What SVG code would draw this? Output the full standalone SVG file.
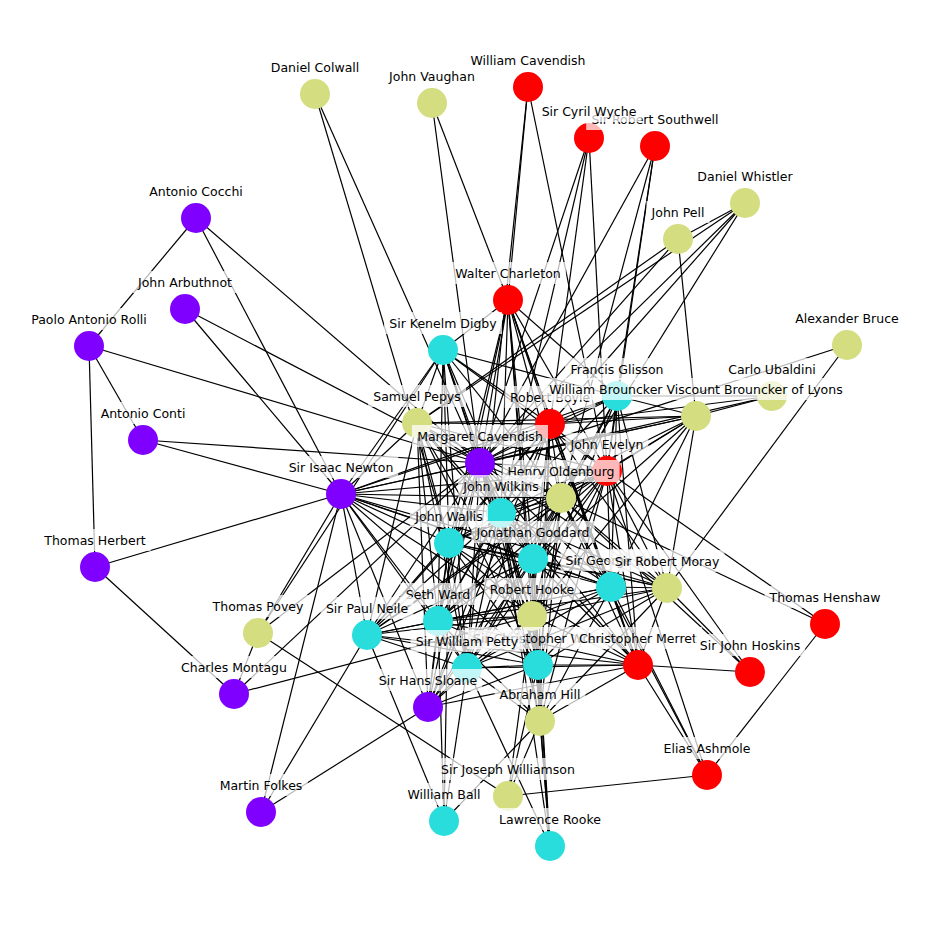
<svg xmlns="http://www.w3.org/2000/svg" width="936" height="936" viewBox="0 0 936 936">
<style>
#edges line{stroke:#000;stroke-width:1.2;stroke-linecap:butt}
.y{fill:#d4dd80}.r{fill:#ff0000}.p{fill:#8000ff}.c{fill:#2adddd}
.lb rect{fill:#fff;fill-opacity:0.72}
.lb text{font-family:"DejaVu Sans","Liberation Sans",sans-serif;font-size:12.5px;fill:#000;text-anchor:middle}
</style>
<rect width="936" height="936" fill="#fff"/>
<g id="edges">
<line x1="315" y1="94" x2="480" y2="463"/><line x1="315" y1="94" x2="449" y2="543"/>
<line x1="432" y1="103" x2="508" y2="300"/><line x1="432" y1="103" x2="480" y2="463"/>
<line x1="528" y1="87" x2="508" y2="300"/><line x1="528" y1="87" x2="467" y2="668"/><line x1="528" y1="87" x2="607" y2="471"/>
<line x1="589" y1="138" x2="480" y2="463"/><line x1="589" y1="138" x2="501" y2="513"/><line x1="589" y1="138" x2="550" y2="424"/><line x1="589" y1="138" x2="607" y2="471"/>
<line x1="655" y1="146" x2="480" y2="463"/><line x1="655" y1="146" x2="561" y2="498"/><line x1="655" y1="146" x2="607" y2="471"/><line x1="655" y1="146" x2="617" y2="396"/>
<line x1="745" y1="203" x2="678" y2="239"/><line x1="745" y1="203" x2="417" y2="423"/><line x1="745" y1="203" x2="480" y2="463"/><line x1="745" y1="203" x2="561" y2="498"/><line x1="745" y1="203" x2="550" y2="424"/>
<line x1="678" y1="239" x2="417" y2="423"/><line x1="678" y1="239" x2="480" y2="463"/><line x1="678" y1="239" x2="696" y2="416"/>
<line x1="847" y1="345" x2="480" y2="463"/><line x1="847" y1="345" x2="667" y2="588"/>
<line x1="772" y1="396" x2="696" y2="416"/><line x1="772" y1="396" x2="550" y2="424"/><line x1="772" y1="396" x2="480" y2="463"/><line x1="772" y1="396" x2="617" y2="396"/>
<line x1="196" y1="218" x2="89" y2="346"/><line x1="196" y1="218" x2="341" y2="494"/><line x1="196" y1="218" x2="480" y2="463"/>
<line x1="185" y1="309" x2="480" y2="463"/><line x1="185" y1="309" x2="341" y2="494"/>
<line x1="89" y1="346" x2="143" y2="440"/><line x1="89" y1="346" x2="95" y2="567"/><line x1="89" y1="346" x2="480" y2="463"/>
<line x1="143" y1="440" x2="341" y2="494"/><line x1="143" y1="440" x2="480" y2="463"/>
<line x1="95" y1="567" x2="341" y2="494"/><line x1="95" y1="567" x2="234" y2="694"/>
<line x1="234" y1="694" x2="258" y2="633"/><line x1="234" y1="694" x2="480" y2="463"/><line x1="234" y1="694" x2="532" y2="616"/>
<line x1="258" y1="633" x2="341" y2="494"/><line x1="258" y1="633" x2="443" y2="350"/><line x1="258" y1="633" x2="480" y2="463"/><line x1="258" y1="633" x2="508" y2="796"/>
<line x1="261" y1="812" x2="341" y2="494"/><line x1="261" y1="812" x2="367" y2="635"/><line x1="261" y1="812" x2="428" y2="707"/>
<line x1="428" y1="707" x2="341" y2="494"/><line x1="428" y1="707" x2="638" y2="665"/>
<line x1="707" y1="775" x2="638" y2="665"/><line x1="707" y1="775" x2="561" y2="498"/><line x1="707" y1="775" x2="611" y2="587"/><line x1="707" y1="775" x2="607" y2="471"/><line x1="707" y1="775" x2="825" y2="624"/><line x1="707" y1="775" x2="508" y2="796"/>
<line x1="750" y1="672" x2="638" y2="665"/><line x1="750" y1="672" x2="607" y2="471"/><line x1="750" y1="672" x2="561" y2="498"/>
<line x1="825" y1="624" x2="607" y2="471"/><line x1="825" y1="624" x2="561" y2="498"/>
<line x1="444" y1="821" x2="367" y2="635"/><line x1="444" y1="821" x2="438" y2="621"/><line x1="444" y1="821" x2="467" y2="668"/><line x1="444" y1="821" x2="540" y2="721"/><line x1="444" y1="821" x2="449" y2="543"/>
<line x1="550" y1="846" x2="540" y2="721"/><line x1="550" y1="846" x2="538" y2="665"/><line x1="550" y1="846" x2="532" y2="616"/><line x1="550" y1="846" x2="533" y2="559"/><line x1="550" y1="846" x2="467" y2="668"/><line x1="550" y1="846" x2="501" y2="513"/>
<line x1="508" y1="796" x2="540" y2="721"/><line x1="508" y1="796" x2="538" y2="665"/><line x1="508" y1="796" x2="532" y2="616"/>
<line x1="341" y1="494" x2="480" y2="463"/><line x1="341" y1="494" x2="417" y2="423"/><line x1="341" y1="494" x2="443" y2="350"/><line x1="341" y1="494" x2="501" y2="513"/><line x1="341" y1="494" x2="449" y2="543"/><line x1="341" y1="494" x2="561" y2="498"/><line x1="341" y1="494" x2="550" y2="424"/><line x1="341" y1="494" x2="533" y2="559"/><line x1="341" y1="494" x2="532" y2="616"/><line x1="341" y1="494" x2="438" y2="621"/><line x1="341" y1="494" x2="467" y2="668"/><line x1="341" y1="494" x2="538" y2="665"/><line x1="341" y1="494" x2="367" y2="635"/><line x1="341" y1="494" x2="611" y2="587"/><line x1="341" y1="494" x2="607" y2="471"/><line x1="341" y1="494" x2="617" y2="396"/><line x1="341" y1="494" x2="696" y2="416"/><line x1="341" y1="494" x2="667" y2="588"/>
<line x1="443" y1="350" x2="508" y2="300"/><line x1="443" y1="350" x2="480" y2="463"/><line x1="443" y1="350" x2="417" y2="423"/><line x1="443" y1="350" x2="550" y2="424"/><line x1="443" y1="350" x2="607" y2="471"/><line x1="443" y1="350" x2="561" y2="498"/><line x1="443" y1="350" x2="501" y2="513"/><line x1="443" y1="350" x2="449" y2="543"/><line x1="443" y1="350" x2="533" y2="559"/><line x1="443" y1="350" x2="438" y2="621"/><line x1="443" y1="350" x2="617" y2="396"/><line x1="443" y1="350" x2="467" y2="668"/><line x1="443" y1="350" x2="532" y2="616"/>
<line x1="508" y1="300" x2="480" y2="463"/><line x1="508" y1="300" x2="550" y2="424"/><line x1="508" y1="300" x2="561" y2="498"/><line x1="508" y1="300" x2="607" y2="471"/><line x1="508" y1="300" x2="501" y2="513"/><line x1="508" y1="300" x2="533" y2="559"/><line x1="508" y1="300" x2="611" y2="587"/><line x1="508" y1="300" x2="532" y2="616"/><line x1="508" y1="300" x2="538" y2="665"/><line x1="508" y1="300" x2="449" y2="543"/><line x1="508" y1="300" x2="438" y2="621"/><line x1="508" y1="300" x2="638" y2="665"/><line x1="508" y1="300" x2="617" y2="396"/>
<line x1="417" y1="423" x2="480" y2="463"/><line x1="417" y1="423" x2="550" y2="424"/><line x1="417" y1="423" x2="607" y2="471"/><line x1="417" y1="423" x2="561" y2="498"/><line x1="417" y1="423" x2="501" y2="513"/><line x1="417" y1="423" x2="449" y2="543"/><line x1="417" y1="423" x2="533" y2="559"/><line x1="417" y1="423" x2="438" y2="621"/><line x1="417" y1="423" x2="532" y2="616"/><line x1="417" y1="423" x2="367" y2="635"/><line x1="417" y1="423" x2="467" y2="668"/><line x1="417" y1="423" x2="428" y2="707"/><line x1="417" y1="423" x2="538" y2="665"/><line x1="417" y1="423" x2="696" y2="416"/>
<line x1="617" y1="396" x2="550" y2="424"/><line x1="617" y1="396" x2="480" y2="463"/><line x1="617" y1="396" x2="607" y2="471"/><line x1="617" y1="396" x2="561" y2="498"/><line x1="617" y1="396" x2="501" y2="513"/><line x1="617" y1="396" x2="533" y2="559"/><line x1="617" y1="396" x2="611" y2="587"/><line x1="617" y1="396" x2="696" y2="416"/><line x1="617" y1="396" x2="667" y2="588"/><line x1="617" y1="396" x2="532" y2="616"/><line x1="617" y1="396" x2="638" y2="665"/>
<line x1="696" y1="416" x2="550" y2="424"/><line x1="696" y1="416" x2="480" y2="463"/><line x1="696" y1="416" x2="607" y2="471"/><line x1="696" y1="416" x2="561" y2="498"/><line x1="696" y1="416" x2="501" y2="513"/><line x1="696" y1="416" x2="533" y2="559"/><line x1="696" y1="416" x2="611" y2="587"/><line x1="696" y1="416" x2="667" y2="588"/><line x1="696" y1="416" x2="532" y2="616"/>
<line x1="550" y1="424" x2="480" y2="463"/><line x1="550" y1="424" x2="607" y2="471"/><line x1="550" y1="424" x2="561" y2="498"/><line x1="550" y1="424" x2="501" y2="513"/><line x1="550" y1="424" x2="449" y2="543"/><line x1="550" y1="424" x2="533" y2="559"/><line x1="550" y1="424" x2="611" y2="587"/><line x1="550" y1="424" x2="667" y2="588"/><line x1="550" y1="424" x2="532" y2="616"/><line x1="550" y1="424" x2="438" y2="621"/><line x1="550" y1="424" x2="367" y2="635"/><line x1="550" y1="424" x2="467" y2="668"/><line x1="550" y1="424" x2="538" y2="665"/><line x1="550" y1="424" x2="638" y2="665"/><line x1="550" y1="424" x2="540" y2="721"/><line x1="550" y1="424" x2="428" y2="707"/>
<line x1="607" y1="471" x2="480" y2="463"/><line x1="607" y1="471" x2="561" y2="498"/><line x1="607" y1="471" x2="501" y2="513"/><line x1="607" y1="471" x2="449" y2="543"/><line x1="607" y1="471" x2="533" y2="559"/><line x1="607" y1="471" x2="611" y2="587"/><line x1="607" y1="471" x2="667" y2="588"/><line x1="607" y1="471" x2="532" y2="616"/><line x1="607" y1="471" x2="438" y2="621"/><line x1="607" y1="471" x2="467" y2="668"/><line x1="607" y1="471" x2="538" y2="665"/><line x1="607" y1="471" x2="638" y2="665"/><line x1="607" y1="471" x2="540" y2="721"/><line x1="607" y1="471" x2="367" y2="635"/>
<line x1="480" y1="463" x2="561" y2="498"/><line x1="480" y1="463" x2="501" y2="513"/><line x1="480" y1="463" x2="449" y2="543"/><line x1="480" y1="463" x2="533" y2="559"/><line x1="480" y1="463" x2="611" y2="587"/><line x1="480" y1="463" x2="667" y2="588"/><line x1="480" y1="463" x2="532" y2="616"/><line x1="480" y1="463" x2="438" y2="621"/><line x1="480" y1="463" x2="367" y2="635"/><line x1="480" y1="463" x2="467" y2="668"/><line x1="480" y1="463" x2="538" y2="665"/><line x1="480" y1="463" x2="428" y2="707"/><line x1="480" y1="463" x2="638" y2="665"/><line x1="480" y1="463" x2="540" y2="721"/>
<line x1="561" y1="498" x2="501" y2="513"/><line x1="561" y1="498" x2="449" y2="543"/><line x1="561" y1="498" x2="533" y2="559"/><line x1="561" y1="498" x2="611" y2="587"/><line x1="561" y1="498" x2="667" y2="588"/><line x1="561" y1="498" x2="532" y2="616"/><line x1="561" y1="498" x2="438" y2="621"/><line x1="561" y1="498" x2="367" y2="635"/><line x1="561" y1="498" x2="467" y2="668"/><line x1="561" y1="498" x2="538" y2="665"/><line x1="561" y1="498" x2="638" y2="665"/><line x1="561" y1="498" x2="540" y2="721"/><line x1="561" y1="498" x2="428" y2="707"/>
<line x1="501" y1="513" x2="449" y2="543"/><line x1="501" y1="513" x2="533" y2="559"/><line x1="501" y1="513" x2="611" y2="587"/><line x1="501" y1="513" x2="667" y2="588"/><line x1="501" y1="513" x2="532" y2="616"/><line x1="501" y1="513" x2="438" y2="621"/><line x1="501" y1="513" x2="367" y2="635"/><line x1="501" y1="513" x2="467" y2="668"/><line x1="501" y1="513" x2="538" y2="665"/><line x1="501" y1="513" x2="638" y2="665"/><line x1="501" y1="513" x2="540" y2="721"/><line x1="501" y1="513" x2="428" y2="707"/>
<line x1="449" y1="543" x2="533" y2="559"/><line x1="449" y1="543" x2="611" y2="587"/><line x1="449" y1="543" x2="667" y2="588"/><line x1="449" y1="543" x2="532" y2="616"/><line x1="449" y1="543" x2="438" y2="621"/><line x1="449" y1="543" x2="367" y2="635"/><line x1="449" y1="543" x2="467" y2="668"/><line x1="449" y1="543" x2="538" y2="665"/><line x1="449" y1="543" x2="638" y2="665"/><line x1="449" y1="543" x2="428" y2="707"/>
<line x1="533" y1="559" x2="611" y2="587"/><line x1="533" y1="559" x2="667" y2="588"/><line x1="533" y1="559" x2="532" y2="616"/><line x1="533" y1="559" x2="438" y2="621"/><line x1="533" y1="559" x2="367" y2="635"/><line x1="533" y1="559" x2="467" y2="668"/><line x1="533" y1="559" x2="538" y2="665"/><line x1="533" y1="559" x2="638" y2="665"/><line x1="533" y1="559" x2="540" y2="721"/><line x1="533" y1="559" x2="428" y2="707"/>
<line x1="611" y1="587" x2="667" y2="588"/><line x1="611" y1="587" x2="532" y2="616"/><line x1="611" y1="587" x2="438" y2="621"/><line x1="611" y1="587" x2="367" y2="635"/><line x1="611" y1="587" x2="467" y2="668"/><line x1="611" y1="587" x2="538" y2="665"/><line x1="611" y1="587" x2="638" y2="665"/><line x1="611" y1="587" x2="540" y2="721"/>
<line x1="667" y1="588" x2="532" y2="616"/><line x1="667" y1="588" x2="438" y2="621"/><line x1="667" y1="588" x2="467" y2="668"/><line x1="667" y1="588" x2="538" y2="665"/><line x1="667" y1="588" x2="638" y2="665"/><line x1="667" y1="588" x2="540" y2="721"/><line x1="667" y1="588" x2="750" y2="672"/>
<line x1="532" y1="616" x2="438" y2="621"/><line x1="532" y1="616" x2="367" y2="635"/><line x1="532" y1="616" x2="467" y2="668"/><line x1="532" y1="616" x2="538" y2="665"/><line x1="532" y1="616" x2="638" y2="665"/><line x1="532" y1="616" x2="540" y2="721"/><line x1="532" y1="616" x2="428" y2="707"/>
<line x1="438" y1="621" x2="367" y2="635"/><line x1="438" y1="621" x2="467" y2="668"/><line x1="438" y1="621" x2="538" y2="665"/><line x1="438" y1="621" x2="638" y2="665"/><line x1="438" y1="621" x2="428" y2="707"/><line x1="438" y1="621" x2="540" y2="721"/>
<line x1="367" y1="635" x2="467" y2="668"/><line x1="367" y1="635" x2="538" y2="665"/><line x1="367" y1="635" x2="638" y2="665"/>
<line x1="467" y1="668" x2="538" y2="665"/><line x1="467" y1="668" x2="638" y2="665"/><line x1="467" y1="668" x2="540" y2="721"/><line x1="467" y1="668" x2="428" y2="707"/>
<line x1="538" y1="665" x2="638" y2="665"/><line x1="538" y1="665" x2="540" y2="721"/><line x1="538" y1="665" x2="428" y2="707"/>
<line x1="638" y1="665" x2="540" y2="721"/>
</g>
<g id="nodes">
<g id="node-daniel-colwall"><circle class="y" cx="315" cy="94" r="15"/></g>
<g id="node-john-vaughan"><circle class="y" cx="432" cy="103" r="15"/></g>
<g id="node-william-cavendish"><circle class="r" cx="528" cy="87" r="15"/></g>
<g id="node-sir-cyril-wyche"><circle class="r" cx="589" cy="138" r="15"/></g>
<g id="node-sir-robert-southwell"><circle class="r" cx="655" cy="146" r="15"/></g>
<g id="node-daniel-whistler"><circle class="y" cx="745" cy="203" r="15"/></g>
<g id="node-john-pell"><circle class="y" cx="678" cy="239" r="15"/></g>
<g id="node-antonio-cocchi"><circle class="p" cx="196" cy="218" r="15"/></g>
<g id="node-walter-charleton"><circle class="r" cx="508" cy="300" r="15"/></g>
<g id="node-john-arbuthnot"><circle class="p" cx="185" cy="309" r="15"/></g>
<g id="node-paolo-antonio-rolli"><circle class="p" cx="89" cy="346" r="15"/></g>
<g id="node-sir-kenelm-digby"><circle class="c" cx="443" cy="350" r="15"/></g>
<g id="node-alexander-bruce"><circle class="y" cx="847" cy="345" r="15"/></g>
<g id="node-francis-glisson"><circle class="c" cx="617" cy="396" r="15"/></g>
<g id="node-carlo-ubaldini"><circle class="y" cx="772" cy="396" r="15"/></g>
<g id="node-robert-boyle"><circle class="r" cx="550" cy="424" r="15"/></g>
<g id="node-william-brouncker"><circle class="y" cx="696" cy="416" r="15"/></g>
<g id="node-samuel-pepys"><circle class="y" cx="417" cy="423" r="15"/></g>
<g id="node-margaret-cavendish"><circle class="p" cx="480" cy="463" r="15"/></g>
<g id="node-john-evelyn"><circle class="r" cx="607" cy="471" r="15"/></g>
<g id="node-antonio-conti"><circle class="p" cx="143" cy="440" r="15"/></g>
<g id="node-sir-isaac-newton"><circle class="p" cx="341" cy="494" r="15"/></g>
<g id="node-henry-oldenburg"><circle class="y" cx="561" cy="498" r="15"/></g>
<g id="node-john-wilkins"><circle class="c" cx="501" cy="513" r="15"/></g>
<g id="node-john-wallis"><circle class="c" cx="449" cy="543" r="15"/></g>
<g id="node-jonathan-goddard"><circle class="c" cx="533" cy="559" r="15"/></g>
<g id="node-thomas-herbert"><circle class="p" cx="95" cy="567" r="15"/></g>
<g id="node-sir-george-ent"><circle class="c" cx="611" cy="587" r="15"/></g>
<g id="node-sir-robert-moray"><circle class="y" cx="667" cy="588" r="15"/></g>
<g id="node-seth-ward"><circle class="c" cx="438" cy="621" r="15"/></g>
<g id="node-robert-hooke"><circle class="y" cx="532" cy="616" r="15"/></g>
<g id="node-thomas-henshaw"><circle class="r" cx="825" cy="624" r="15"/></g>
<g id="node-thomas-povey"><circle class="y" cx="258" cy="633" r="15"/></g>
<g id="node-sir-paul-neile"><circle class="c" cx="367" cy="635" r="15"/></g>
<g id="node-sir-christopher-wren"><circle class="c" cx="538" cy="665" r="15"/></g>
<g id="node-sir-william-petty"><circle class="c" cx="467" cy="668" r="15"/></g>
<g id="node-christopher-merret"><circle class="r" cx="638" cy="665" r="15"/></g>
<g id="node-sir-john-hoskins"><circle class="r" cx="750" cy="672" r="15"/></g>
<g id="node-charles-montagu"><circle class="p" cx="234" cy="694" r="15"/></g>
<g id="node-sir-hans-sloane"><circle class="p" cx="428" cy="707" r="15"/></g>
<g id="node-abraham-hill"><circle class="y" cx="540" cy="721" r="15"/></g>
<g id="node-elias-ashmole"><circle class="r" cx="707" cy="775" r="15"/></g>
<g id="node-sir-joseph-williamson"><circle class="y" cx="508" cy="796" r="15"/></g>
<g id="node-martin-folkes"><circle class="p" cx="261" cy="812" r="15"/></g>
<g id="node-william-ball"><circle class="c" cx="444" cy="821" r="15"/></g>
<g id="node-lawrence-rooke"><circle class="c" cx="550" cy="846" r="15"/></g>
</g>
<g id="labels" class="lb">
<g id="label-daniel-colwall"><rect x="265.8" y="56" width="98.5" height="22"/><text x="315" y="71.5">Daniel Colwall</text></g>
<g id="label-john-vaughan"><rect x="383.7" y="65" width="96.7" height="22"/><text x="432" y="80.5">John Vaughan</text></g>
<g id="label-william-cavendish"><rect x="465.4" y="49" width="125.3" height="22"/><text x="528" y="64.5">William Cavendish</text></g>
<g id="label-sir-robert-southwell"><rect x="586.2" y="108" width="137.7" height="22"/><text x="655" y="123.5">Sir Robert Southwell</text></g>
<g id="label-sir-cyril-wyche"><rect x="536.6" y="100" width="104.9" height="22"/><text x="589" y="115.5">Sir Cyril Wyche</text></g>
<g id="label-daniel-whistler"><rect x="692.4" y="165" width="105.3" height="22"/><text x="745" y="180.5">Daniel Whistler</text></g>
<g id="label-john-pell"><rect x="646.4" y="201" width="63.3" height="22"/><text x="678" y="216.5">John Pell</text></g>
<g id="label-antonio-cocchi"><rect x="144.2" y="180" width="103.6" height="22"/><text x="196" y="195.5">Antonio Cocchi</text></g>
<g id="label-walter-charleton"><rect x="449.9" y="262" width="116.3" height="22"/><text x="508" y="277.5">Walter Charleton</text></g>
<g id="label-john-arbuthnot"><rect x="133" y="271" width="104" height="22"/><text x="185" y="286.5">John Arbuthnot</text></g>
<g id="label-paolo-antonio-rolli"><rect x="25.7" y="308" width="126.7" height="22"/><text x="89" y="323.5">Paolo Antonio Rolli</text></g>
<g id="label-sir-kenelm-digby"><rect x="384" y="312" width="118" height="22"/><text x="443" y="327.5">Sir Kenelm Digby</text></g>
<g id="label-alexander-bruce"><rect x="790.2" y="307" width="113.6" height="22"/><text x="847" y="322.5">Alexander Bruce</text></g>
<g id="label-francis-glisson"><rect x="565" y="358" width="104" height="22"/><text x="617" y="373.5">Francis Glisson</text></g>
<g id="label-carlo-ubaldini"><rect x="723.2" y="358" width="97.6" height="22"/><text x="772" y="373.5">Carlo Ubaldini</text></g>
<g id="label-robert-boyle"><rect x="504.6" y="386" width="90.8" height="22"/><text x="550" y="401.5">Robert Boyle</text></g>
<g id="label-william-brouncker"><rect x="542.8" y="378" width="306.5" height="22"/><text x="696" y="393.5">William Brouncker Viscount Brouncker of Lyons</text></g>
<g id="label-samuel-pepys"><rect x="368.1" y="385" width="97.9" height="22"/><text x="417" y="400.5">Samuel Pepys</text></g>
<g id="label-margaret-cavendish"><rect x="411.9" y="425" width="136.1" height="22"/><text x="480" y="440.5">Margaret Cavendish</text></g>
<g id="label-john-evelyn"><rect x="565.5" y="433" width="82.9" height="22"/><text x="607" y="448.5">John Evelyn</text></g>
<g id="label-antonio-conti"><rect x="95.6" y="402" width="94.7" height="22"/><text x="143" y="417.5">Antonio Conti</text></g>
<g id="label-sir-isaac-newton"><rect x="283.7" y="456" width="114.6" height="22"/><text x="341" y="471.5">Sir Isaac Newton</text></g>
<g id="label-henry-oldenburg"><rect x="502.3" y="460" width="117.3" height="22"/><text x="561" y="475.5">Henry Oldenburg</text></g>
<g id="label-john-wilkins"><rect x="458.2" y="475" width="85.6" height="22"/><text x="501" y="490.5">John Wilkins</text></g>
<g id="label-john-wallis"><rect x="409.9" y="505" width="78.1" height="22"/><text x="449" y="520.5">John Wallis</text></g>
<g id="label-jonathan-goddard"><rect x="471.4" y="521" width="123.2" height="22"/><text x="533" y="536.5">Jonathan Goddard</text></g>
<g id="label-thomas-herbert"><rect x="39.3" y="529" width="111.4" height="22"/><text x="95" y="544.5">Thomas Herbert</text></g>
<g id="label-sir-george-ent"><rect x="560.5" y="549" width="101" height="22"/><text x="611" y="564.5">Sir George Ent</text></g>
<g id="label-sir-robert-moray"><rect x="609.4" y="550" width="115.1" height="22"/><text x="667" y="565.5">Sir Robert Moray</text></g>
<g id="label-seth-ward"><rect x="400.2" y="583" width="75.5" height="22"/><text x="438" y="598.5">Seth Ward</text></g>
<g id="label-robert-hooke"><rect x="484.2" y="578" width="95.6" height="22"/><text x="532" y="593.5">Robert Hooke</text></g>
<g id="label-thomas-henshaw"><rect x="764.5" y="586" width="120.9" height="22"/><text x="825" y="601.5">Thomas Henshaw</text></g>
<g id="label-thomas-povey"><rect x="207.4" y="595" width="101.2" height="22"/><text x="258" y="610.5">Thomas Povey</text></g>
<g id="label-sir-paul-neile"><rect x="320.6" y="597" width="92.8" height="22"/><text x="367" y="612.5">Sir Paul Neile</text></g>
<g id="label-sir-christopher-wren"><rect x="467.7" y="627" width="140.6" height="22"/><text x="538" y="642.5">Sir Christopher Wren</text></g>
<g id="label-sir-william-petty"><rect x="410.5" y="630" width="113" height="22"/><text x="467" y="645.5">Sir William Petty</text></g>
<g id="label-christopher-merret"><rect x="573.8" y="627" width="128.3" height="22"/><text x="638" y="642.5">Christopher Merret</text></g>
<g id="label-sir-john-hoskins"><rect x="694.8" y="634" width="110.4" height="22"/><text x="750" y="649.5">Sir John Hoskins</text></g>
<g id="label-charles-montagu"><rect x="176" y="656" width="115.9" height="22"/><text x="234" y="671.5">Charles Montagu</text></g>
<g id="label-sir-hans-sloane"><rect x="373.8" y="669" width="108.3" height="22"/><text x="428" y="684.5">Sir Hans Sloane</text></g>
<g id="label-abraham-hill"><rect x="494.6" y="683" width="90.8" height="22"/><text x="540" y="698.5">Abraham Hill</text></g>
<g id="label-elias-ashmole"><rect x="658.5" y="737" width="97" height="22"/><text x="707" y="752.5">Elias Ashmole</text></g>
<g id="label-sir-joseph-williamson"><rect x="436" y="758" width="144" height="22"/><text x="508" y="773.5">Sir Joseph Williamson</text></g>
<g id="label-martin-folkes"><rect x="214.2" y="774" width="93.6" height="22"/><text x="261" y="789.5">Martin Folkes</text></g>
<g id="label-william-ball"><rect x="402.4" y="783" width="83.2" height="22"/><text x="444" y="798.5">William Ball</text></g>
<g id="label-lawrence-rooke"><rect x="493.5" y="808" width="113" height="22"/><text x="550" y="823.5">Lawrence Rooke</text></g>
</g>
</svg>
